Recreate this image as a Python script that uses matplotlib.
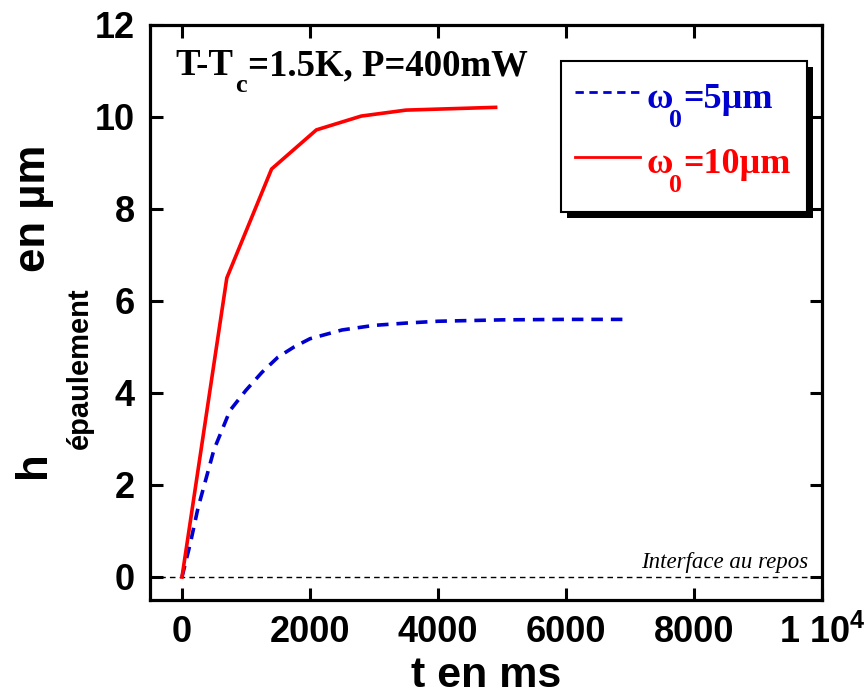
import numpy as np
import matplotlib
matplotlib.use("Agg")
import matplotlib.pyplot as plt
from matplotlib.patches import Rectangle
from matplotlib.lines import Line2D
from matplotlib.transforms import IdentityTransform, offset_copy

# values
t_w5 = [0, 130, 250, 500, 750, 1000, 1250, 1500, 1750, 2000, 2500, 3000, 3500, 4000, 5000, 6000, 7000]
h_w5 = [0, 0.73, 1.5, 2.77, 3.62, 4.06, 4.45, 4.78, 5.0, 5.18, 5.37, 5.47, 5.52, 5.56, 5.59, 5.6, 5.6]

t_w10 = [0, 700, 1400, 2100, 2800, 3500, 4200, 4900]
h_w10 = [0, 6.5, 8.87, 9.72, 10.02, 10.15, 10.18, 10.21]

xticks = [0, 2000, 4000, 6000, 8000, 10000]
xtick_labels = ["0", "2000", "4000", "6000", "8000", r"1 10$^{\mathregular{4}}$"]
yticks = [0, 2, 4, 6, 8, 10, 12]

sans = "Liberation Sans"
serif = "Liberation Serif"
plt.rcParams["font.family"] = sans
plt.rcParams["font.weight"] = "bold"

W, H = 864, 699
fig = plt.figure(figsize=(W / 100, H / 100), dpi=100)
ax = fig.add_axes([150 / W, 1 - 600 / H, 672 / W, 575 / H])
renderer = fig.canvas.get_renderer()


def chain_text(x, y, pieces, rotation=0, **kw):
    # x, y in image pixels (origin top-left); pieces: (text, size, drop, gap)
    pos = x if rotation == 0 else H - y
    for s, size, drop, gap in pieces:
        if rotation == 0:
            px, py = pos, H - y - drop
        else:
            px, py = x + drop, pos
        t = fig.text(px, py, s, fontsize=size, rotation=rotation,
                     rotation_mode="anchor", ha="left", va="baseline",
                     transform=IdentityTransform(), **kw)
        bb = t.get_window_extent(renderer)
        pos = (bb.x1 if rotation == 0 else bb.y1) + gap


ax.axhline(0, color="k", lw=1.0, ls=(0, (4, 3)), zorder=1)
ax.text(9780, 0.2, "Interface au repos", family=serif, style="italic",
        fontweight="normal", fontsize=16.5, ha="right", va="baseline")

l5, = ax.plot(t_w5, h_w5, color="#0000d0", lw=2.6, ls=(0, (3.2, 2.2)), zorder=3)
l10, = ax.plot(t_w10, h_w10, color="#ff0000", lw=2.6, zorder=3)

ax.set_xlim(-500, 10000)
ax.set_ylim(-0.5, 12)
ax.set_xticks(xticks)
ax.set_xticklabels(xtick_labels)
ax.set_yticks(yticks)
ax.tick_params(direction="in", length=9, width=2.2, top=True, right=True,
               labelsize=26, pad=11)
for lab in ax.get_xticklabels() + ax.get_yticklabels():
    lab.set_fontweight("bold")
for sp in ax.spines.values():
    sp.set_linewidth(2.3)

ax.set_xlabel("t en ms", fontsize=31, fontweight="bold", labelpad=3)

# y label with a deep subscript
chain_text(45, 478, [("h", 31.5, 0, 2), ("épaulement", 21, 43, 16),
                     ("en µm", 31.5, 0, 0)], rotation=90, fontweight="bold")

# annotation in the upper left corner
chain_text(175, 75, [("T-T", 26.5, 0, 2), ("c", 19, 17, 2),
                     ("=1.5K, P=400mW", 26.5, 0, 0)],
           family=serif, fontweight="bold")

# legend drawn by hand: box, shadow, keys and labels
lx0, lx1, ly0, ly1 = 561, 807, 61, 212
box_xy = ((lx0 - 150) / 672, (600 - ly1) / 575)
box_w, box_h = (lx1 - lx0) / 672, (ly1 - ly0) / 575
shadow = Rectangle(box_xy, box_w, box_h, fc="k", ec="k", lw=0, zorder=5,
                   transform=offset_copy(ax.transAxes, fig=fig, x=6, y=-6, units="dots"))
box = Rectangle(box_xy, box_w, box_h, transform=ax.transAxes, fc="w", ec="k",
                lw=1.5, zorder=6)
ax.add_patch(shadow)
ax.add_patch(box)

for line, ykey, ytxt, num in [(l5, 92, 108, "=5µm"), (l10, 157, 173, "=10µm")]:
    yk = (600 - ykey) / 575
    key = Line2D([(575 - 150) / 672, (640 - 150) / 672], [yk, yk],
                 transform=ax.transAxes, color=line.get_color(), lw=2.0, zorder=7)
    if line is l5:
        key.set_dashes((3, 2))
    ax.add_line(key)
    chain_text(647, ytxt, [("ω", 26, 0, -4), ("0", 18.5, 19, 1), (num, 26, 0, 0)],
               family=serif, fontweight="bold", color=line.get_color(), zorder=8)

fig.savefig("out.png", dpi=100)
